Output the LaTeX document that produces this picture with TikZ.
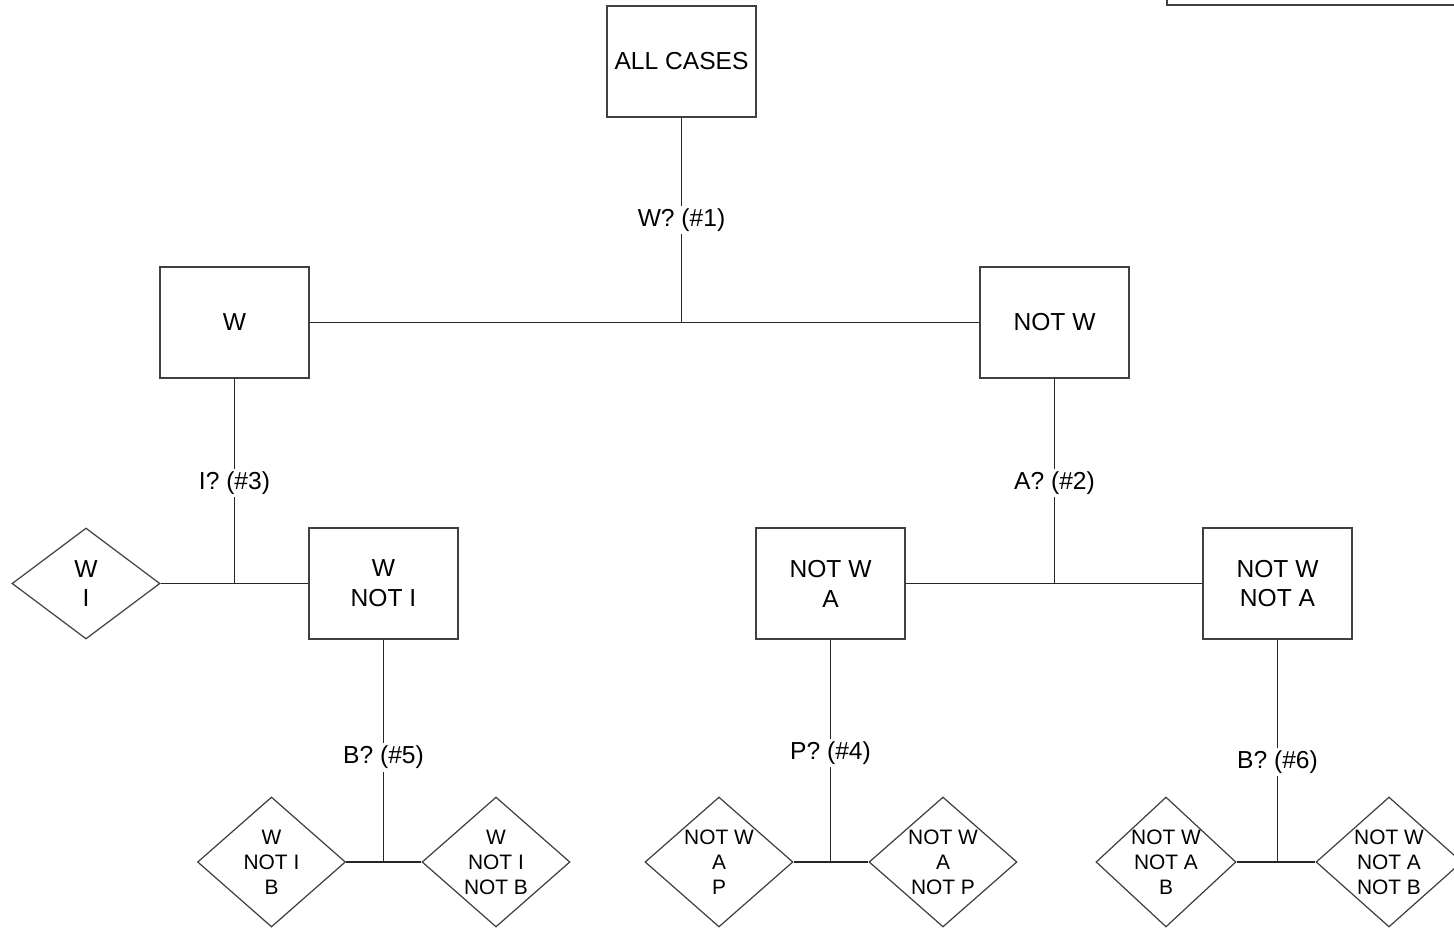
\documentclass[tikz,border=0pt]{standalone}
\usepackage{fontspec}
\setmainfont{Liberation Sans}
\usetikzlibrary{shapes}

\begin{document}
\begin{tikzpicture}[x=0.02cm,y=-0.02cm,
  box/.style={shape=rectangle,draw=black!75,line width=0.8pt,align=center,minimum width=2.98cm,minimum height=2.22cm,font=\fontsize{14}{17}\selectfont},
  dia/.style={shape=diamond,draw=black!75,line width=0.7pt,minimum width=2.96cm,minimum height=2.6cm,inner sep=0pt},
  dtxt/.style={align=center,inner sep=0pt,font=\fontsize{11.9}{14.2}\selectfont},
  link/.style={draw=black!85,line width=0.9pt},
  ask/.style={fill=white,inner sep=1.5pt,font=\fontsize{14}{17}\selectfont}]
\clip (0,0) rectangle (1454,929);

% boxes
\node[box] (all) at (681.5,61.5) {ALL CASES};
\node[box] (w) at (234.5,322.5) {W};
\node[box] (notw) at (1054.5,322.5) {NOT W};
\node[box] (wnoti) at (383.5,583.5) {W\\NOT I};
\node[box] (notwa) at (830.5,583.5) {NOT W\\A};
\node[box] (notwnota) at (1277.5,583.5) {NOT W\\NOT A};

% diamonds
\node[dia,minimum height=2.22cm] (wi) at (86,583.5) {};
\node[dtxt,font=\fontsize{14}{17}\selectfont] (wi-t) at (wi) {W\\I};
\node[dia] (wnotib) at (271.5,862) {};
\node[dtxt] (wnotib-t) at (wnotib) {W\\NOT I\\B};
\node[dia] (wnotinotb) at (496,862) {};
\node[dtxt] (wnotinotb-t) at (wnotinotb) {W\\NOT I\\NOT B};
\node[dia] (notwap) at (719,862) {};
\node[dtxt] (notwap-t) at (notwap) {NOT W\\A\\P};
\node[dia] (notwanotp) at (943,862) {};
\node[dtxt] (notwanotp-t) at (notwanotp) {NOT W\\A\\NOT P};
\node[dia,minimum width=2.8cm] (notwnotab) at (1166,862) {};
\node[dtxt] (notwnotab-t) at (notwnotab) {NOT W\\NOT A\\B};
\node[dia,minimum width=2.92cm] (notwnotanotb) at (1389,862) {};
\node[dtxt] (notwnotanotb-t) at (notwnotanotb) {NOT W\\NOT A\\NOT B};

% junctions
\coordinate (j1) at (681.5,322.5);
\coordinate (j3) at (234.5,583.5);
\coordinate (j2) at (1054.5,583.5);
\coordinate (j5) at (383.5,862);
\coordinate (j4) at (830.5,862);
\coordinate (j6) at (1277.5,862);

% connectors
\draw[link] (w.east) -- (notw.west);
\draw[link] (all.south) -- node[ask,pos=0.5] (q1) {W? (\#1)} (j1);
\draw[link] (wi.east) -- (wnoti.west);
\draw[link] (w.south) -- node[ask,pos=0.51] (q3) {I? (\#3)} (j3);
\draw[link] (notwa.east) -- (notwnota.west);
\draw[link] (notw.south) -- node[ask,pos=0.51] (q2) {A? (\#2)} (j2);
\draw[link] (wnotib.east) -- (wnotinotb.west);
\draw[link] (wnoti.south) -- node[ask,pos=0.53] (q5) {B? (\#5)} (j5);
\draw[link] (notwap.east) -- (notwanotp.west);
\draw[link] (notwa.south) -- node[ask,pos=0.51] (q4) {P? (\#4)} (j4);
\draw[link] (notwnotab.east) -- (notwnotanotb.west);
\draw[link] (notwnota.south) -- node[ask,pos=0.55] (q6) {B? (\#6)} (j6);

% cut box top right
\draw[draw=black!75,line width=1pt] (1167,-5) -- (1167,5) -- (1460,5);
\end{tikzpicture}
\end{document}
